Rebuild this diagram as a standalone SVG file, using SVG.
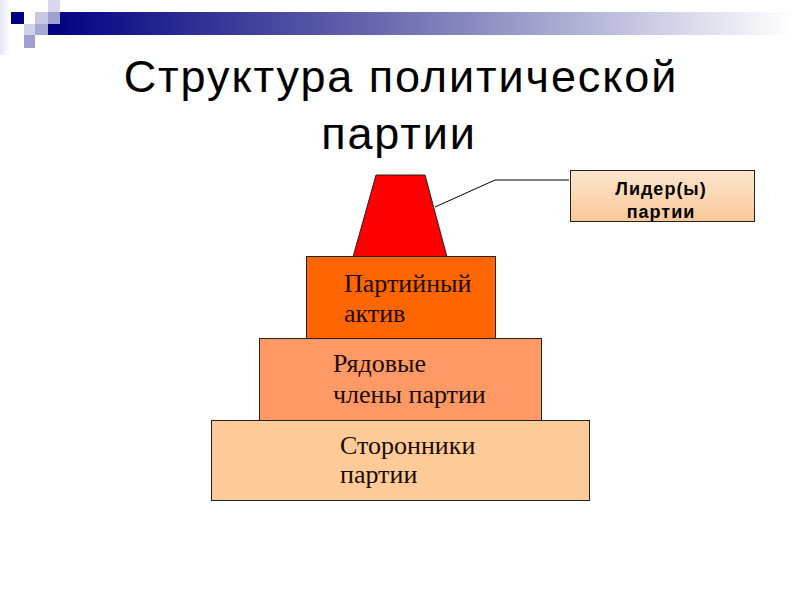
<svg xmlns="http://www.w3.org/2000/svg" width="800" height="600" viewBox="0 0 800 600">
<defs>
<linearGradient id="band" x1="0" y1="0" x2="1" y2="0">
<stop offset="0" stop-color="#000080"/>
<stop offset="0.45" stop-color="#6a6ab0"/>
<stop offset="1" stop-color="#ffffff"/>
</linearGradient>
<linearGradient id="strip" x1="0" y1="0" x2="1" y2="0">
<stop offset="0" stop-color="#e6e6f2"/>
<stop offset="1" stop-color="#ffffff"/>
</linearGradient>
<linearGradient id="peach" x1="0" y1="0" x2="0" y2="1">
<stop offset="0" stop-color="#fde6d0"/>
<stop offset="1" stop-color="#f9c896"/>
</linearGradient>
</defs>
<style>
.title{font-family:"Liberation Sans",Arial,sans-serif;font-size:45px;letter-spacing:1.9px;fill:#000;text-anchor:middle}
.lvl{font-family:"Liberation Serif","Times New Roman",serif;font-size:26px;fill:#1a0a00}
.lead{font-family:"Liberation Sans",Arial,sans-serif;font-size:18px;letter-spacing:1px;font-weight:bold;fill:#000;text-anchor:middle}
.box{stroke:#222;stroke-width:1}
</style>
<rect width="800" height="600" fill="#fff"/>
<g id="header">
<rect x="0" y="0" width="11" height="55" fill="url(#strip)"/>
<rect x="48" y="12" width="745" height="23" fill="url(#band)"/>
<rect x="11" y="12" width="13" height="12" fill="#000080"/>
<rect x="35" y="12" width="13" height="12" fill="#c8c8e4"/>
<rect x="48" y="12" width="12" height="12" fill="#a0a0d0"/>
<rect x="48" y="0" width="12" height="12" fill="#d8d8ec"/>
<rect x="24" y="24" width="11" height="11" fill="#d0d0e8"/>
<rect x="35" y="24" width="13" height="11" fill="#a8a8d4"/>
<rect x="24" y="35" width="11" height="13" fill="#a0a0d0"/>
</g>
<text class="title" x="401" y="92">Структура политической</text>
<text class="title" x="399" y="149">партии</text>
<g id="connectors">
<polyline points="435,207 495,180 569,180" fill="none" stroke="#000" stroke-width="1"/>
</g>
<g id="leaders">
<polygon class="box" points="376,175 425,175 447,257 353,257" fill="#ff0000"/>
</g>
<g id="leader-label">
<rect class="box" x="570.5" y="170.5" width="184" height="51" fill="url(#peach)"/>
<text class="lead" x="661" y="195">Лидер(ы)</text>
<text class="lead" x="661" y="218">партии</text>
</g>
<g id="supporters">
<rect class="box" x="211.5" y="420.5" width="378" height="80" fill="#ffcc99"/>
<text class="lvl" x="340" y="454">Сторонники</text>
<text class="lvl" x="340" y="483">партии</text>
</g>
<g id="members">
<rect class="box" x="259.5" y="338.5" width="282" height="82" fill="#ff9966"/>
<text class="lvl" x="333" y="372">Рядовые</text>
<text class="lvl" x="333" y="403">члены партии</text>
</g>
<g id="activists">
<rect class="box" x="306.5" y="256.5" width="189" height="82" fill="#ff6600"/>
<text class="lvl" x="344" y="292">Партийный</text>
<text class="lvl" x="344" y="322">актив</text>
</g>
</svg>
